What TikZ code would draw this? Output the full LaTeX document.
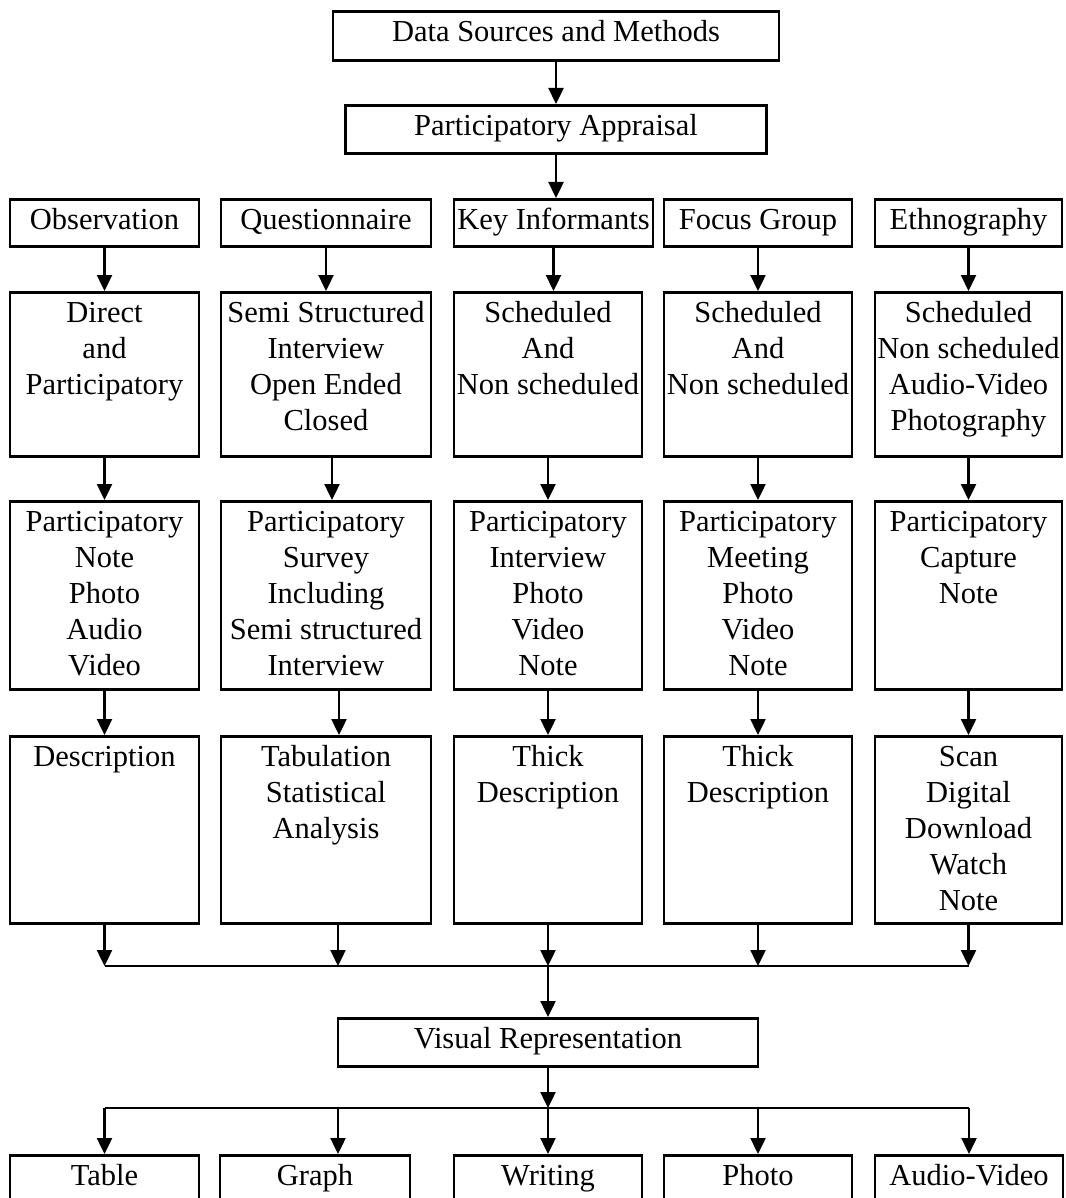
\documentclass[tikz,border=0pt]{standalone}
\usepackage{fontspec}
\setmainfont{Liberation Serif}
\usetikzlibrary{arrows.meta}

\begin{document}
\begin{tikzpicture}[x=1pt,y=-1pt,font=\fontsize{30.5}{35.8}\selectfont,
    arr/.style={line width=2.4pt,-{Triangle[width=15pt,length=16pt]}}]
\useasboundingbox (0,0) rectangle (1065,1198);
\clip (0,0) rectangle (1065,1198);
\begin{scope}[every node/.style={draw, line width=2.6pt, inner sep=0pt, anchor=north, align=flush center, text height=30.5pt}]
    \node [text width=446pt, text depth=18.5pt] (ds) at (556,10) {Data Sources and Methods};
    \node [text width=421pt, text depth=17.5pt] (pa) at (556,104) {Participatory Appraisal};

    \node [text width=189pt, text depth=16.5pt] (obs) at (104.5,198) {Observation};
    \node [text width=210pt, text depth=16.5pt] (que) at (326,198) {Questionnaire};
    \node [text width=199pt, text depth=16.5pt] (key) at (553.5,198) {Key Informants};
    \node [text width=188pt, text depth=16.5pt] (foc) at (758,198) {Focus Group};
    \node [text width=187pt, text depth=16.5pt] (eth) at (968.5,198) {Ethnography};

    \node [text width=189pt, text depth=133.5pt] (obs2) at (104.5,291) {Direct\\and\\Participatory};
    \node [text width=210pt, text depth=133.5pt] (que2) at (326,291) {Semi Structured\\Interview\\Open Ended\\Closed};
    \node [text width=188pt, text depth=133.5pt] (key2) at (548,291) {Scheduled\\And\\Non scheduled};
    \node [text width=188pt, text depth=133.5pt] (foc2) at (758,291) {Scheduled\\And\\Non scheduled};
    \node [text width=187pt, text depth=133.5pt] (eth2) at (968.5,291) {Scheduled\\Non scheduled\\Audio-Video\\Photography};

    \node [text width=189pt, text depth=157.5pt] (obs3) at (104.5,500) {Participatory\\Note\\Photo\\Audio\\Video};
    \node [text width=210pt, text depth=157.5pt] (que3) at (326,500) {Participatory\\Survey\\Including\\Semi structured\\Interview};
    \node [text width=188pt, text depth=157.5pt] (key3) at (548,500) {Participatory\\Interview\\Photo\\Video\\Note};
    \node [text width=188pt, text depth=157.5pt] (foc3) at (758,500) {Participatory\\Meeting\\Photo\\Video\\Note};
    \node [text width=187pt, text depth=157.5pt] (eth3) at (968.5,500) {Participatory\\Capture\\Note};

    \node [text width=189pt, text depth=156.5pt] (obs4) at (104.5,735) {Description};
    \node [text width=210pt, text depth=156.5pt] (que4) at (326,735) {Tabulation\\Statistical\\Analysis};
    \node [text width=188pt, text depth=156.5pt] (key4) at (548,735) {Thick\\Description};
    \node [text width=188pt, text depth=156.5pt] (foc4) at (758,735) {Thick\\Description};
    \node [text width=187pt, text depth=156.5pt] (eth4) at (968.5,735) {Scan\\Digital\\Download\\Watch\\Note};

    \node [text width=420pt, text depth=17.5pt] (vis) at (548,1017) {Visual Representation};

    \node [text width=189pt, text depth=29.5pt] (tab) at (104.5,1154) {Table};
    \node [text width=190pt, text depth=29.5pt] (gra) at (315,1154) {Graph};
    \node [text width=188pt, text depth=29.5pt] (wri) at (548,1154) {Writing};
    \node [text width=188pt, text depth=29.5pt] (pho) at (758,1154) {Photo};
    \node [text width=188pt, text depth=29.5pt] (aud) at (969,1154) {Audio-Video};
\end{scope}

\coordinate (j1) at (104.5,966);
\coordinate (j2) at (338,966);
\coordinate (j3) at (548,966);
\coordinate (j4) at (758,966);
\coordinate (j5) at (968.5,966);

\coordinate (k1) at (104.5,1108);
\coordinate (k2) at (338,1108);
\coordinate (k3) at (548,1108);
\coordinate (k4) at (758,1108);
\coordinate (k5) at (969,1108);

\path [arr] (ds) edge (pa);
\path [arr] (pa.south) edge (pa.south |- key.north);

\path [arr] (obs) edge (obs2);
\path [arr] (que) edge (que2);
\path [arr] (key.south) edge (key.south |- key2.north);
\path [arr] (foc) edge (foc2);
\path [arr] (eth) edge (eth2);

\path [arr] (obs2) edge (obs3);
\path [arr] ([xshift=6pt]que2.south) edge ([xshift=6pt]que3.north);
\path [arr] (key2) edge (key3);
\path [arr] (foc2) edge (foc3);
\path [arr] (eth2) edge (eth3);

\path [arr] (obs3) edge (obs4);
\path [arr] ([xshift=13pt]que3.south) edge ([xshift=13pt]que4.north);
\path [arr] (key3) edge (key4);
\path [arr] (foc3) edge (foc4);
\path [arr] (eth3) edge (eth4);

\path [arr] (obs4) edge (j1);
\path [arr] ([xshift=12pt]que4.south) edge (j2);
\path [arr] (key4) edge (j3);
\path [arr] (foc4) edge (j4);
\path [arr] (eth4) edge (j5);
\draw [line width=2.4pt] (j1) -- (j5);

\path [arr] (j3) edge (vis);
\path [arr] (vis) edge (k3);
\draw [line width=2.4pt] (k1) -- (k5);

\path [arr] (k1) edge (tab);
\path [arr] (k2) edge (k2 |- gra.north);
\path [arr] (k3) edge (wri);
\path [arr] (k4) edge (pho);
\path [arr] (k5) edge (aud);

\end{tikzpicture}
\end{document}
